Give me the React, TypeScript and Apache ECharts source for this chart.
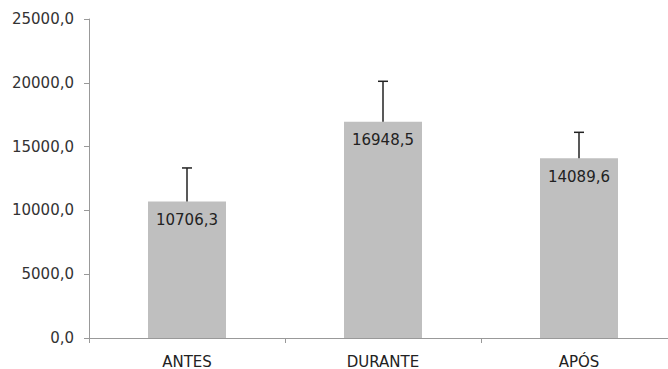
import React, { useEffect, useRef } from "react";
import * as echarts from "echarts";

const categories = ["ANTES", "DURANTE", "APÓS"];
const means = [10706.3, 16948.5, 14089.6];
const errors = [2620, 3170, 2030];
const yTicks = { min: 0, max: 25000, interval: 5000 };

const fmt = (v: number) => v.toFixed(1).replace(".", ",");

export default function App() {
  const ref = useRef<HTMLDivElement>(null);
  useEffect(() => {
    if (!ref.current) return;
    const chart = echarts.init(ref.current, undefined, { renderer: "svg" });
    const font = "DejaVu Sans";
    chart.setOption({
      animation: false,
      backgroundColor: "#ffffff",
      grid: { left: 89, top: 19, bottom: 31, width: 588 },
      xAxis: {
        type: "category",
        data: categories,
        axisLine: { lineStyle: { color: "#999999", width: 1 } },
        axisTick: { show: true, length: 5, lineStyle: { color: "#999999" } },
        axisLabel: { color: "#222222", fontFamily: font, fontSize: 15, margin: 16 },
      },
      yAxis: {
        type: "value",
        min: yTicks.min,
        max: yTicks.max,
        interval: yTicks.interval,
        splitLine: { show: false },
        axisLine: { show: true, lineStyle: { color: "#999999", width: 1 } },
        axisTick: { show: true, length: 5, lineStyle: { color: "#999999" } },
        axisLabel: {
          color: "#333333",
          fontFamily: font,
          fontSize: 15,
          margin: 15,
          formatter: (v: number) => fmt(v),
        },
      },
      series: [
        {
          type: "bar",
          data: means,
          barWidth: 78,
          itemStyle: { color: "#bfbfbf" },
          label: {
            show: true,
            position: "insideTop",
            distance: 11,
            color: "#222222",
            fontFamily: font,
            fontSize: 15,
            formatter: (p: any) => fmt(p.value),
          },
          z: 2,
        },
        {
          type: "custom",
          data: means.map((m, i) => [i, m, m + errors[i]]),
          z: 3,
          renderItem: (params: any, api: any) => {
            const x = api.value(0);
            const base = api.coord([x, api.value(1)]);
            const top = api.coord([x, api.value(2)]);
            const half = 5;
            const style = { stroke: "#222222", lineWidth: 1.5 };
            return {
              type: "group",
              children: [
                { type: "line", shape: { x1: base[0], y1: base[1], x2: top[0], y2: top[1] }, style },
                { type: "line", shape: { x1: top[0] - half, y1: top[1], x2: top[0] + half, y2: top[1] }, style },
              ],
            };
          },
        },
      ],
    });
    return () => chart.dispose();
  }, []);
  return (
    <div style={{ width: 668, height: 369, position: "absolute", left: 0, top: 0, overflow: "hidden" }}>
      <div ref={ref} style={{ width: 690, height: 369 }} />
    </div>
  );
}
